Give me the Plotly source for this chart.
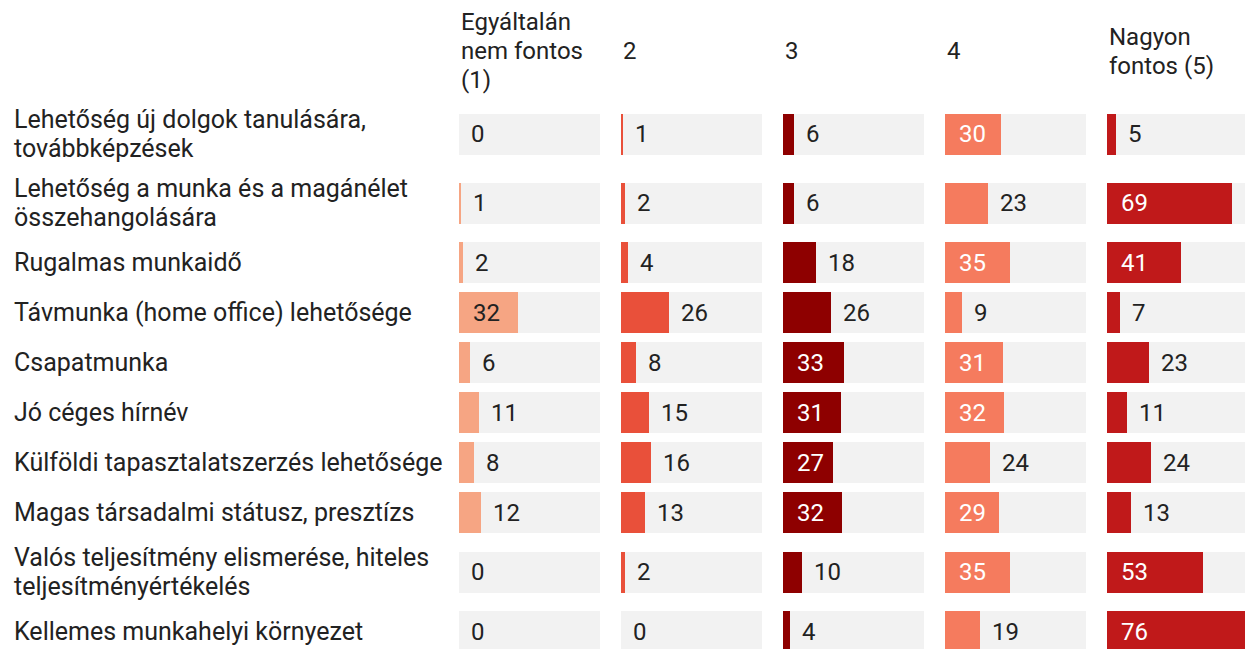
import plotly.graph_objects as go

categories = [
    "Lehetőség új dolgok tanulására,<br>továbbképzések",
    "Lehetőség a munka és a magánélet<br>összehangolására",
    "Rugalmas munkaidő",
    "Távmunka (home office) lehetősége",
    "Csapatmunka",
    "Jó céges hírnév",
    "Külföldi tapasztalatszerzés lehetősége",
    "Magas társadalmi státusz, presztízs",
    "Valós teljesítmény elismerése, hiteles<br>teljesítményértékelés",
    "Kellemes munkahelyi környezet",
]
column_titles = ["Egyáltalán<br>nem fontos<br>(1)", "2", "3", "4", "Nagyon<br>fontos (5)"]

score_1 = [0, 1, 2, 32, 6, 11, 8, 12, 0, 0]
score_2 = [1, 2, 4, 26, 8, 15, 16, 13, 2, 0]
score_3 = [6, 6, 18, 26, 33, 31, 27, 32, 10, 4]
score_4 = [30, 23, 35, 9, 31, 32, 24, 29, 35, 19]
score_5 = [5, 69, 41, 7, 23, 11, 24, 13, 53, 76]

columns = [score_1, score_2, score_3, score_4, score_5]
colors = ["#f6a583", "#e9503a", "#8e0000", "#f57b5e", "#c0191a"]
inside_text_colors = ["#222222", "#ffffff", "#ffffff", "#ffffff", "#ffffff"]

W, H = 1245, 649
FONT = "Roboto"
TEXT = "#222222"
BG = "#f2f2f2"
INSIDE_MIN = 27
LABEL_SIZE = 25
VALUE_SIZE = 24
HEADER_SIZE = 24
LINE_H = 29

# row layout derived from number of label lines
slots = [50 + 19 * (c.count("<br>")) for c in categories]
centers = [134.0]
for i in range(1, len(categories)):
    centers.append(centers[-1] + (slots[i - 1] + slots[i]) / 2)

vmax = max(max(c) for c in columns)

col_start = 459
col_step = 162
col_width = 141

annotations = []


def add_multiline(text, x, yc, size):
    lines = text.split("<br>")
    n = len(lines)
    for j, line in enumerate(lines):
        annotations.append(dict(
            x=x, y=yc + (j - (n - 1) / 2) * LINE_H, xref="paper", yref="y", text=line,
            align="left", xanchor="left", yanchor="middle", showarrow=False,
            font=dict(family=FONT, size=size, color=TEXT)))


fig = go.Figure()
layout_axes = {}
for k, vals in enumerate(columns):
    ax = "x" if k == 0 else f"x{k+1}"
    axname = "xaxis" if k == 0 else f"xaxis{k+1}"
    x0 = (col_start + col_step * k) / W
    x1 = min(1.0, (col_start + col_step * k + col_width) / W)
    layout_axes[axname] = dict(domain=[x0, x1], range=[0, vmax], anchor="y",
                               visible=False, fixedrange=True)
    fig.add_trace(go.Bar(x=[vmax] * len(vals), y=centers, orientation="h", width=41,
                         marker=dict(color=BG, line=dict(width=0)), xaxis=ax, yaxis="y",
                         hoverinfo="skip", showlegend=False))
    fig.add_trace(go.Bar(x=vals, y=centers, orientation="h", width=41,
                         marker=dict(color=colors[k], line=dict(width=0)), xaxis=ax, yaxis="y",
                         hoverinfo="skip", showlegend=False))
    for v, yc in zip(vals, centers):
        inside = v >= INSIDE_MIN
        annotations.append(dict(
            x=0 if inside else v, y=yc, xref=ax, yref="y", text=str(v),
            xanchor="left", yanchor="middle", showarrow=False,
            xshift=12 if inside else 10,
            font=dict(family=FONT, size=VALUE_SIZE,
                      color=inside_text_colors[k] if inside else TEXT)))
    add_multiline(column_titles[k], x0, 51, HEADER_SIZE)

for c, yc in zip(categories, centers):
    add_multiline(c, 12 / W, yc, LABEL_SIZE)

fig.update_layout(
    width=W, height=H,
    margin=dict(l=0, r=0, t=0, b=0),
    paper_bgcolor="white", plot_bgcolor="white",
    barmode="overlay", bargap=0,
    yaxis=dict(range=[H, 0], visible=False, fixedrange=True),
    annotations=annotations,
    showlegend=False,
    **layout_axes,
)

fig.write_html("out.html", config={"displayModeBar": False},
               post_script="document.body.style.margin='0';document.body.style.overflow='hidden';")
